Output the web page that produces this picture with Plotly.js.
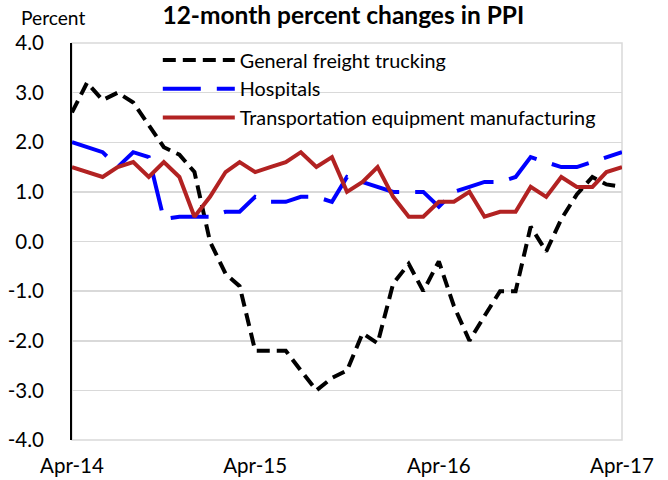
<!DOCTYPE html>
<html>
<head>
<meta charset="utf-8">
<script src="https://cdn.plot.ly/plotly-3.0.1.min.js"></script>
<style>html,body{margin:0;padding:0;background:#fff;}#chart{width:668px;height:480px;}</style>
</head>
<body>
<div id="chart"></div>
<script>
const months = [
 '2014-04-01','2014-05-01','2014-06-01','2014-07-01','2014-08-01','2014-09-01','2014-10-01','2014-11-01','2014-12-01',
 '2015-01-01','2015-02-01','2015-03-01','2015-04-01','2015-05-01','2015-06-01','2015-07-01','2015-08-01','2015-09-01',
 '2015-10-01','2015-11-01','2015-12-01','2016-01-01','2016-02-01','2016-03-01','2016-04-01','2016-05-01','2016-06-01',
 '2016-07-01','2016-08-01','2016-09-01','2016-10-01','2016-11-01','2016-12-01','2017-01-01','2017-02-01','2017-03-01',
 '2017-04-01'
];
const trucking = [2.6,3.2,2.85,3.0,2.8,2.35,1.9,1.75,1.4,0.0,-0.65,-0.9,-2.2,-2.2,-2.2,-2.6,-3.0,-2.75,-2.6,-1.85,-2.05,-0.85,-0.45,-1.0,-0.4,-1.3,-2.0,-1.5,-1.0,-1.0,0.3,-0.2,0.45,0.95,1.3,1.15,1.1];
const hospitals = [2.0,1.9,1.8,1.5,1.8,1.7,0.45,0.5,0.5,0.5,0.6,0.6,0.9,0.8,0.8,0.9,0.9,0.8,1.3,1.2,1.1,1.0,1.0,1.0,0.7,1.0,1.1,1.2,1.2,1.3,1.7,1.6,1.5,1.5,1.6,1.7,1.8];
const transport = [1.5,1.4,1.3,1.5,1.6,1.3,1.6,1.3,0.5,0.9,1.4,1.6,1.4,1.5,1.6,1.8,1.5,1.7,1.0,1.2,1.5,0.9,0.5,0.5,0.8,0.8,1.0,0.5,0.6,0.6,1.1,0.9,1.3,1.1,1.1,1.4,1.5];
const seriesNames = ['General freight trucking','Hospitals','Transportation equipment manufacturing'];
const xTickVals = ['2014-04-01','2015-04-01','2016-04-01','2017-04-01'];
const xTickText = ['Apr-14','Apr-15','Apr-16','Apr-17'];
const yTickVals = [-4,-3,-2,-1,0,1,2,3,4];
const yTickText = ['-4.0','-3.0','-2.0','-1.0','0.0','1.0','2.0','3.0','4.0'];

const FONT = 'Lato, "Open Sans", sans-serif';
const xRange = ['2014-04-01','2017-04-01'];

const traces = [
  {x: months, y: trucking, name: seriesNames[0], mode: 'lines', type: 'scatter',
   line: {color: '#000000', width: 4, dash: '13px,7px'}},
  {x: months, y: hospitals, name: seriesNames[1], mode: 'lines', type: 'scatter',
   line: {color: '#0000FF', width: 4, dash: '38px,16px'}},
  {x: months, y: transport, name: seriesNames[2], mode: 'lines', type: 'scatter',
   line: {color: '#B22222', width: 4}}
];

const layout = {
  width: 668, height: 480,
  margin: {l: 72, r: 46, t: 43, b: 40},
  paper_bgcolor: '#ffffff', plot_bgcolor: '#ffffff',
  font: {family: FONT, size: 20.5, color: '#000'},
  title: {text: '<b>12-month percent changes in PPI</b>', font: {family: FONT, size: 24.5, color: '#000'},
          x: 0.514, xanchor: 'center', y: 0.967, yanchor: 'middle'},
  showlegend: true,
  legend: {x: 0.156, y: 1.006, xanchor: 'left', yanchor: 'top', bgcolor: 'rgba(0,0,0,0)',
           font: {family: FONT, size: 19.8, color: '#000'}, itemwidth: 72, tracegroupgap: 0},
  xaxis: {type: 'date', range: xRange, tickvals: xTickVals, ticktext: xTickText,
          showgrid: false, zeroline: false, showline: false, ticks: '',
          tickfont: {family: FONT, size: 20.5, color: '#000'}, ticklabelstandoff: 11},
  xaxis2: {type: 'date', range: xRange, overlaying: 'x', anchor: 'free', position: 0.5, side: 'bottom',
           tickvals: xTickVals, showticklabels: false, showgrid: false, zeroline: false,
           showline: true, linecolor: '#000', linewidth: 2,
           ticks: 'outside', ticklen: 7, tickwidth: 1.5, tickcolor: '#000'},
  xaxis3: {type: 'date', range: xRange, overlaying: 'x', anchor: 'free', position: 0.5, side: 'top',
           tickvals: xTickVals, showticklabels: false, showgrid: false, zeroline: false,
           showline: false, ticks: 'outside', ticklen: 7, tickwidth: 1.5, tickcolor: '#000'},
  yaxis: {range: [-4, 4], tickvals: yTickVals, ticktext: yTickText,
          showgrid: true, gridcolor: '#d9d9d9', gridwidth: 1.5,
          zeroline: false, showline: true, linecolor: '#000', linewidth: 2, ticks: '',
          tickfont: {family: FONT, size: 20.5, color: '#000'}, ticklabelstandoff: 22},
  shapes: [
    {type: 'rect', xref: 'paper', yref: 'paper', x0: 0, x1: 1, y0: 0, y1: 1,
     line: {color: '#d9d9d9', width: 1.5}, layer: 'below'}
  ],
  annotations: [
    {text: 'Percent', xref: 'paper', yref: 'paper', x: -0.0964, y: 1.0645,
     xanchor: 'left', yanchor: 'middle', showarrow: false, font: {family: FONT, size: 19.2, color: '#000'}}
  ]
};

Plotly.newPlot('chart', traces, layout, {displayModeBar: false, staticPlot: true});
</script>
</body>
</html>
